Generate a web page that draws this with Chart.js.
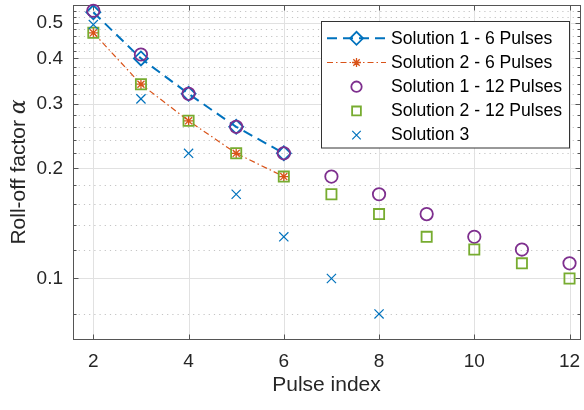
<!DOCTYPE html>
<html>
<head>
<meta charset="utf-8">
<script src="https://cdn.jsdelivr.net/npm/chart.js@4/dist/chart.umd.min.js"></script>
<style>
  html, body { margin: 0; padding: 0; background: #ffffff; }
  #wrap { width: 584px; height: 410px; }
</style>
</head>
<body>
<div id="wrap"><canvas id="c" width="584" height="410"></canvas></div>
<script>
// Pulse indices for each scheme
const pulses6 = [2, 3, 4, 5, 6];
const pulses12 = [2, 3, 4, 5, 6, 7, 8, 9, 10, 11, 12];
const pulsesSol3 = [2, 3, 4, 5, 6, 7, 8];

// Roll-off factor per pulse
const sol1Six = [0.535, 0.40, 0.32, 0.26, 0.22];
const sol2Six = [0.47, 0.34, 0.27, 0.22, 0.19];
const sol1Twelve = [0.54, 0.41, 0.32, 0.26, 0.22, 0.19, 0.17, 0.15, 0.13, 0.12, 0.11];
const sol2Twelve = [0.47, 0.34, 0.27, 0.22, 0.19, 0.17, 0.15, 0.13, 0.12, 0.11, 0.10];
const sol3 = [0.495, 0.31, 0.22, 0.17, 0.13, 0.10, 0.08];

// Axis ticks
const xTicks = [2, 4, 6, 8, 10, 12];
const yMajorTicks = [0.1, 0.2, 0.3, 0.4, 0.5];
const yMinorTicks = [0.08, 0.12, 0.14, 0.16, 0.18, 0.22, 0.24, 0.26, 0.28,
                     0.32, 0.34, 0.36, 0.38, 0.42, 0.44, 0.46, 0.48, 0.52, 0.54];

const seriesNames = ['Solution 1 - 6 Pulses', 'Solution 2 - 6 Pulses',
                     'Solution 1 - 12 Pulses', 'Solution 2 - 12 Pulses', 'Solution 3'];

const xTitle = 'Pulse index';
const yTitle = 'Roll-off factor ';
const yTitleSymbol = '\u03B1';

const SANS = '"Liberation Sans", Arial, Helvetica, sans-serif';
const TEXT = '#262626';
const NONE = 'rgba(0,0,0,0)';

const pts = (xs, ys) => xs.map((x, i) => ({ x: x, y: ys[i] }));

const datasets = [
  { label: seriesNames[0], data: pts(pulses6, sol1Six), showLine: true,
    borderColor: '#0072BD', borderWidth: 2, borderDash: [10, 6],
    pointStyle: 'rectRot', pointRadius: 7, pointBorderWidth: 1.8,
    pointBorderColor: '#0072BD', pointBackgroundColor: NONE, order: 4, clip: false },
  { label: seriesNames[1], data: pts(pulses6, sol2Six), showLine: true,
    borderColor: '#D95319', borderWidth: 1.2, borderDash: [6, 3, 1.5, 3],
    pointStyle: 'star', pointRadius: 5, pointBorderWidth: 1.3,
    pointBorderColor: '#D95319', pointBackgroundColor: NONE, order: 3, clip: false },
  { label: seriesNames[2], data: pts(pulses12, sol1Twelve), showLine: false,
    borderColor: '#7E2F8E', pointStyle: 'circle', pointRadius: 6.2, pointBorderWidth: 1.8,
    pointBorderColor: '#7E2F8E', pointBackgroundColor: NONE, order: 2, clip: false },
  { label: seriesNames[3], data: pts(pulses12, sol2Twelve), showLine: false,
    borderColor: '#77AC30', pointStyle: 'rect', pointRadius: 7.2, pointBorderWidth: 1.8,
    pointBorderColor: '#77AC30', pointBackgroundColor: NONE, order: 1, clip: false },
  { label: seriesNames[4], data: pts(pulsesSol3, sol3), showLine: false,
    borderColor: '#0072BD', pointStyle: 'crossRot', pointRadius: 6.5, pointBorderWidth: 1.2,
    pointBorderColor: '#0072BD', pointBackgroundColor: NONE, order: 0, clip: false }
];

const crisp = v => Math.round(v) + 0.5;

// Grid, box and inward tick marks
const axesFrame = {
  id: 'axesFrame',
  beforeDatasetsDraw(chart) {
    const { ctx, chartArea: a, scales: { x, y } } = chart;
    const L = crisp(a.left), R = crisp(a.right), T = crisp(a.top), B = crisp(a.bottom);
    ctx.save();
    ctx.lineWidth = 1;
    // minor dotted grid
    ctx.strokeStyle = '#c4c4c4';
    ctx.setLineDash([1.2, 4]);
    yMinorTicks.forEach(v => {
      const py = crisp(y.getPixelForValue(v));
      ctx.beginPath(); ctx.moveTo(L, py); ctx.lineTo(R, py); ctx.stroke();
    });
    ctx.setLineDash([]);
    // major solid grid
    ctx.strokeStyle = '#e1e1e1';
    yMajorTicks.forEach(v => {
      const py = crisp(y.getPixelForValue(v));
      ctx.beginPath(); ctx.moveTo(L, py); ctx.lineTo(R, py); ctx.stroke();
    });
    xTicks.forEach(v => {
      const px = crisp(x.getPixelForValue(v));
      ctx.beginPath(); ctx.moveTo(px, T); ctx.lineTo(px, B); ctx.stroke();
    });
    // box
    ctx.strokeStyle = '#555555';
    ctx.strokeRect(L, T, R - L, B - T);
    // inward ticks
    ctx.beginPath();
    xTicks.forEach(v => {
      const px = crisp(x.getPixelForValue(v));
      ctx.moveTo(px, B); ctx.lineTo(px, B - 5);
      ctx.moveTo(px, T); ctx.lineTo(px, T + 5);
    });
    yMajorTicks.forEach(v => {
      const py = crisp(y.getPixelForValue(v));
      ctx.moveTo(L, py); ctx.lineTo(L + 5, py);
      ctx.moveTo(R, py); ctx.lineTo(R - 5, py);
    });
    yMinorTicks.forEach(v => {
      const py = crisp(y.getPixelForValue(v));
      ctx.moveTo(L, py); ctx.lineTo(L + 3, py);
      ctx.moveTo(R, py); ctx.lineTo(R - 3, py);
    });
    ctx.stroke();
    ctx.restore();
  }
};

// Axis titles (the y title mixes an upright label with an italic symbol)
const axisTitles = {
  id: 'axisTitles',
  afterDraw(chart) {
    const { ctx, chartArea: a } = chart;
    ctx.save();
    ctx.fillStyle = TEXT;
    ctx.textBaseline = 'middle';
    ctx.textAlign = 'center';
    ctx.font = '21px ' + SANS;
    ctx.fillText(xTitle, (a.left + a.right) / 2, 385);

    ctx.translate(19, (a.top + a.bottom) / 2);
    ctx.rotate(-Math.PI / 2);
    const mainFont = '21px ' + SANS;
    const symFont = 'italic 22px "DejaVu Serif", "Liberation Serif", serif';
    ctx.font = mainFont;
    const w1 = ctx.measureText(yTitle).width;
    ctx.font = symFont;
    const w2 = ctx.measureText(yTitleSymbol).width;
    const start = -(w1 + w2) / 2;
    ctx.textAlign = 'left';
    ctx.font = mainFont;
    ctx.fillText(yTitle, start, 0);
    ctx.font = symFont;
    ctx.fillText(yTitleSymbol, start + w1, 0);
    ctx.restore();
  }
};

// Legend box with line samples and markers taken from each dataset
const boxLegend = {
  id: 'boxLegend',
  afterDatasetsDraw(chart) {
    const { ctx } = chart;
    const bx = 321.5, by = 21.5, bw = 248, bh = 126.5;
    ctx.save();
    ctx.fillStyle = '#ffffff';
    ctx.fillRect(bx, by, bw, bh);
    ctx.strokeStyle = '#333333';
    ctx.lineWidth = 1;
    ctx.strokeRect(bx, by, bw, bh);
    const x0 = 327, x1 = 386, xm = 356.5, xt = 391;
    chart.data.datasets.forEach((ds, i) => {
      const yy = 38.3 + i * 24.2;
      if (ds.showLine) {
        ctx.save();
        ctx.strokeStyle = ds.borderColor;
        ctx.lineWidth = ds.borderWidth;
        ctx.setLineDash(ds.borderDash || []);
        ctx.beginPath(); ctx.moveTo(x0, yy); ctx.lineTo(x1, yy); ctx.stroke();
        ctx.restore();
      }
      ctx.save();
      ctx.strokeStyle = ds.pointBorderColor;
      ctx.fillStyle = NONE;
      ctx.lineWidth = ds.pointBorderWidth;
      ctx.setLineDash([]);
      const r = ds.pointStyle === 'circle' ? 5.2 : (ds.pointStyle === 'rect' ? 6.2 : ds.pointRadius - 0.5);
      Chart.helpers.drawPoint(ctx, { pointStyle: ds.pointStyle, radius: r, rotation: 0,
        borderWidth: ds.pointBorderWidth }, xm, yy);
      ctx.restore();
      ctx.fillStyle = '#000000';
      ctx.font = '17.6px ' + SANS;
      ctx.textAlign = 'left';
      ctx.textBaseline = 'middle';
      ctx.fillText(ds.label, xt, yy + 0.5);
    });
    ctx.restore();
  }
};

// Keep the plot box fixed regardless of how far tick labels overhang it
const noOverhang = s => {
  s.paddingTop = 0; s.paddingBottom = 0; s.paddingLeft = 0; s.paddingRight = 0;
};

new Chart(document.getElementById('c'), {
  type: 'line',
  data: { datasets: datasets },
  options: {
    responsive: false,
    animation: false,
    events: [],
    layout: { autoPadding: false, padding: { top: 5, right: 4, left: 0, bottom: 0 } },
    plugins: { legend: { display: false }, tooltip: { enabled: false } },
    elements: { line: { tension: 0, fill: false } },
    scales: {
      x: {
        type: 'linear', min: 1.573, max: 12.22,
        afterBuildTicks: s => { s.ticks = xTicks.map(v => ({ value: v })); s.min = 1.573; s.max = 12.22; },
        afterFit: s => { s.height = 71; noOverhang(s); },
        grid: { display: false, drawTicks: false },
        border: { display: false },
        ticks: { padding: 11, color: TEXT, autoSkip: false, maxRotation: 0,
                 font: { family: SANS, size: 19 } }
      },
      y: {
        type: 'logarithmic', min: 0.0683, max: 0.56,
        afterBuildTicks: s => { s.ticks = yMajorTicks.map(v => ({ value: v })); s.min = 0.0683; s.max = 0.56; },
        afterFit: s => { s.width = 73; noOverhang(s); },
        grid: { display: false, drawTicks: false },
        border: { display: false },
        ticks: { padding: 10, color: TEXT, autoSkip: false,
                 callback: v => String(v),
                 font: { family: SANS, size: 19 } }
      }
    }
  },
  plugins: [axesFrame, axisTitles, boxLegend]
});
</script>
</body>
</html>
